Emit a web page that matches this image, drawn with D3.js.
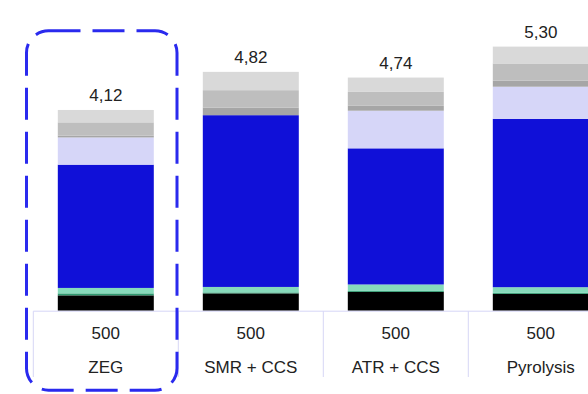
<!DOCTYPE html>
<html>
<head>
<meta charset="utf-8">
<script src="https://cdn.jsdelivr.net/npm/d3@7"></script>
<style>
  body { margin: 0; background: #fff; }
  text { font-family: "Liberation Sans", Arial, sans-serif; fill: #222; }
</style>
</head>
<body>
<div class="chart-container"></div>
<script>
//! DATA
const categories = ['ZEG', 'SMR + CCS', 'ATR + CCS', 'Pyrolysis']
const capacities = ['500', '500', '500', '500']
const totals = ['4,12', '4,82', '4,74', '5,30']

// stack order, bottom to top
const segmentKeys = ['black', 'darkGreen', 'mint', 'blue', 'lavender', 'darkGray', 'midGray', 'lightGray']
const black     = [0.31, 0.35, 0.38, 0.34]
const mint      = [0.11, 0.11, 0.13, 0.115]
const darkGreen = [0.04, 0.02, 0.02, 0.02]
const blue      = [2.49, 3.47, 2.75, 3.40]
const lavender  = [0.55, 0,    0.76, 0.65]
const darkGray  = [0.035, 0.155, 0.10, 0.12]
const midGray   = [0.27, 0.35, 0.28, 0.35]
const lightGray = [0.25, 0.37, 0.29, 0.34]

const colors = {
  black: '#000000', darkGreen: '#2f9a70', mint: '#86dabb', blue: '#1010d8',
  lavender: '#d6d6f8', darkGray: '#a6a6a6', midGray: '#bebebe', lightGray: '#d9d9d9'
}

//! CONSTS
const width = 588
const height = 394
const baseY = 310.7
const pxPerUnit = 49.5
const fontSize = 17

const rows = categories.map((c, i) => ({
  category: c, black: black[i], darkGreen: darkGreen[i], mint: mint[i], blue: blue[i],
  lavender: lavender[i], darkGray: darkGray[i], midGray: midGray[i], lightGray: lightGray[i]
}))

//! SVG
const svg = d3.select('.chart-container')
  .append('svg')
  .attr('width', width)
  .attr('height', height)

//! SCALES
const xScale = d3.scaleBand()
  .domain(categories)
  .range([33.3, 33.3 + 145 * categories.length])
  .paddingInner(0.338)
  .paddingOuter(0.169)

const yScale = d3.scaleLinear()
  .domain([0, 6])
  .range([baseY, baseY - 6 * pxPerUnit])

const stack = d3.stack().keys(segmentKeys)(rows)

//! BARS
svg.append('g')
  .selectAll('g')
  .data(stack)
  .enter()
  .append('g')
  .attr('fill', d => colors[d.key])
  .selectAll('rect')
  .data(d => d)
  .enter()
  .append('rect')
  .attr('x', d => xScale(d.data.category))
  .attr('width', xScale.bandwidth())
  .attr('y', d => yScale(d[1]))
  .attr('height', d => yScale(d[0]) - yScale(d[1]))

//! TOTAL LABELS
const topOf = i => d3.sum(segmentKeys, k => rows[i][k])
svg.append('g')
  .selectAll('text')
  .data(totals)
  .enter()
  .append('text')
  .attr('x', (d, i) => xScale(categories[i]) + xScale.bandwidth() / 2)
  .attr('y', (d, i) => yScale(topOf(i)) - 9)
  .attr('text-anchor', 'middle')
  .attr('font-size', fontSize)
  .text(d => d)

//! TABLE BELOW
const cellX = i => xScale.step() * i + 33.3
const table = svg.append('g')
table.append('line')
  .attr('x1', 33.3).attr('x2', width)
  .attr('y1', baseY + 0.5).attr('y2', baseY + 0.5)
  .attr('stroke', '#d6d6f6').attr('stroke-width', 1)
table.selectAll('.divider')
  .data(d3.range(categories.length + 1))
  .enter()
  .append('line')
  .attr('class', 'divider')
  .attr('x1', i => cellX(i)).attr('x2', i => cellX(i))
  .attr('y1', baseY + 0.5).attr('y2', 377)
  .attr('stroke', '#d6d6f6').attr('stroke-width', 1)

table.selectAll('.cap')
  .data(capacities)
  .enter()
  .append('text')
  .attr('class', 'cap')
  .attr('x', (d, i) => xScale(categories[i]) + xScale.bandwidth() / 2)
  .attr('y', 338.5)
  .attr('text-anchor', 'middle')
  .attr('font-size', fontSize)
  .text(d => d)

table.selectAll('.cat')
  .data(categories)
  .enter()
  .append('text')
  .attr('class', 'cat')
  .attr('x', d => xScale(d) + xScale.bandwidth() / 2)
  .attr('y', 373)
  .attr('text-anchor', 'middle')
  .attr('font-size', fontSize)
  .text(d => d)

//! HIGHLIGHT BOX
svg.append('rect')
  .attr('x', 26.5)
  .attr('y', 30.7)
  .attr('width', 150.5)
  .attr('height', 359.5)
  .attr('rx', 22)
  .attr('fill', 'none')
  .attr('stroke', '#2a2aee')
  .attr('stroke-width', 3)
  .attr('stroke-dasharray', '32 12')
</script>
</body>
</html>
